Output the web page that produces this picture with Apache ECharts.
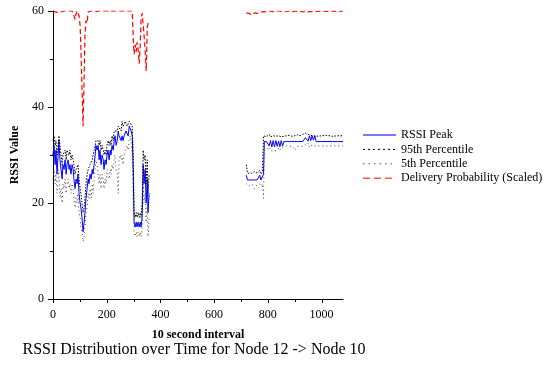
<!DOCTYPE html>
<html>
<head>
<meta charset="utf-8">
<script src="https://cdn.jsdelivr.net/npm/echarts@6/dist/echarts.min.js"></script>
<style>html,body{margin:0;padding:0;background:#fff}#c{width:543px;height:367px}</style>
</head>
<body>
<div id="c"></div>
<script>
// ---- Data ----
const xTicks = [0, 200, 400, 600, 800, 1000];
const xMinorTicks = [100, 300, 500, 700, 900];
const yTicks = [0, 20, 40, 60];

// Segment 1 (10 second intervals 0..360)
const t1 = [0,4,8,11,15,19,22,26,30,34,37,41,45,49,52,56,60,63,67,71,75,78,82,86,90,93,97,101,104,108,112,116,119,123,127,131,134,138,142,146,149,153,157,160,164,168,172,175,179,183,187,190,194,198,201,205,209,213,216,220,224,228,231,235,239,243,246,250,254,257,261,265,269,272,276,280,284,287,291,295,299,302,306,310,313,317,321,325,328,332,336,339,343,347,351,354,358];
const peak1 = [30,32,28,31,26,30,33,29,27,25,28,27,29,26,28,29,27,28,26,28,27,25,23,25,24,26,22,20,19,17,14,16,18,21,23,25,24,26,25,27,26,28,30,32,31,32,29,31,28,30,29,27,29,28,30,31,29,31,30,32,31,33,34,32,33,35,34,34,33,34,33,34,34,35,35,34,36,36,35,34,26,16,15,16,15,16,15,16,15,17,28,24,27,20,25,18,22];
const p95_1 = [33,34,32,33,30,32,34,32,30,28,30,30,31,29,31,31,30,31,29,30,29,28,26,27,27,28,25,23,22,20,18,19,21,24,26,27,27,28,28,29,29,31,32,33,33,33,32,33,31,32,31,30,31,30,32,33,32,33,32,34,33,35,35,35,35,36,36,36,35,37,36,36,37,37,36,36,37,37,37,36,30,18,17,18,17,18,17,18,17,20,31,29,30,24,29,22,26];
const p5_1 = [25,27,24,26,22,25,27,21,23,20,24,23,25,22,24,25,23,24,22,24,23,21,19,21,20,22,18,17,15,14,12,13,15,18,19,22,21,23,21,24,22,25,27,29,28,28,24,26,23,26,25,23,25,24,27,27,25,27,26,28,27,29,30,27,26,22,29,30,29,30,28,30,31,31,32,31,33,34,33,30,20,14,13,14,13,14,13,14,13,15,24,20,22,16,20,13,17];
const deliv1 = [60,60,59.8,60,60,59.7,60,60,59.8,60,60,60,59.7,60,60,60,60,59.8,60,60,59.5,59,58.2,59.5,60,59.8,59,57,52,44,36,46,55,58,57.5,59.8,60,
  60,60,59.8,60,60,60,60,59.9,60,60,60,60,60,59.8,60,60,60,60,60,60,59.9,60,60,60,60,60,60,59.8,60,60,60,60,60,60,60,60,59.9,60,60,60,60,60,60,
  54,51,53,51.5,53.5,52,49,53,58.5,59.5,57,55,52,47.5,56.5,57.5];

// Segment 2 (10 second intervals 720..1080)
const t2 = [720,724,730,740,750,760,770,774,780,784,787,795,800,805,810,815,820,825,830,835,840,845,850,855,860,870,880,890,900,910,920,930,940,945,950,955,960,965,970,975,980,1000,1020,1040,1060,1080];
const peak2 = [25.8,24.8,24.8,24.8,24.8,24.8,25.8,24.8,24.8,26,32.8,32.8,32.8,31.9,33.0,31.7,33.0,31.7,33.0,31.8,32.9,31.7,33.0,31.9,32.8,32.8,32.8,32.8,32.8,32.8,32.8,32.8,33.6,34.0,32.9,34.0,33.0,34.0,33.1,34.0,32.8,32.8,32.8,32.8,32.8,32.8];
const p95_2 = [28,26.2,26,26.2,26.5,26.3,26.8,26,26.5,34,34.0,33.8,34.0,34.3,33.8,34.2,34.0,34.4,33.9,34.2,34.0,34.3,33.8,34.0,33.9,34.0,34.1,33.9,34.0,34.2,34.0,34.3,34.5,34.8,34.3,34.6,34.1,34.5,34.0,34.3,33.9,34.0,34.1,33.9,34.0,34.0];
const p5_2 = [24,24,23.5,24,23,23.8,24,23.5,24,21,31.8,31.5,31.7,31.0,31.5,30.8,31.2,30.9,31.3,30.9,31.5,31.0,31.6,31.3,31.7,31.9,31.8,31.9,31.0,31.8,31.9,31.8,32.2,31.9,32.5,31.7,32.3,31.8,32.0,31.9,32.0,31.9,31.9,31.9,31.9,31.9];
const deliv2 = [59.6,59.3,59.5,59.2,59.6,59.5,59.7,59.6,59.8,59.7,59.8,59.9,59.8,60,59.8,59.9,60,59.8,59.9,60,59.8,60,59.9,59.8,60,59.9,60,59.8,60,59.9,60,59.8,60,59.9,59.8,60,59.9,60,59.8,60,59.9,60,59.9,60,59.9,60];

const names = ['RSSI Peak', '95th Percentile', '5th Percentile', 'Delivery Probability (Scaled)'];

function pairs(xs, ys) { return xs.map((x, i) => [x, ys[i]]); }

const styles = [
  { color: '#0000ff', width: 1, type: 'solid' },
  { color: '#000000', width: 1, type: [1.5, 1.5] },
  { color: '#444444', width: 1, type: [1, 3] },
  { color: '#ff0000', width: 1.2, type: [5, 3] }
];
const legendLine = [
  { color: '#7777ff', width: 2, type: 'solid' },
  { color: '#000000', width: 1, type: [2, 3] },
  { color: '#555555', width: 1, type: [1.5, 4] },
  { color: '#ff0000', width: 1, type: [7, 4] }
];
const seg1 = [peak1, p95_1, p5_1, deliv1];
const seg2 = [peak2, p95_2, p5_2, deliv2];

const series = [];
names.forEach((n, k) => {
  [[t1, seg1[k]], [t2, seg2[k]]].forEach(([xs, ys]) => {
    series.push({
      name: n, type: 'line', data: pairs(xs, ys), symbol: 'none',
      lineStyle: { color: styles[k].color, width: styles[k].width, type: styles[k].type },
      itemStyle: { color: styles[k].color },
      animation: false, silent: true, z: 2 + k
    });
  });
});

const font = 'Liberation Serif';
const chart = echarts.init(document.getElementById('c'), null, { renderer: 'canvas' });
chart.setOption({
  backgroundColor: '#fff',
  animation: false,
  title: {
    text: 'RSSI Distribution over Time for Node 12 -> Node 10',
    left: 189, top: 337, textAlign: 'center',
    textStyle: { fontFamily: font, fontSize: 16, fontWeight: 'normal', color: '#000' }
  },
  legend: {
    data: names.map((n, k) => ({ name: n, itemStyle: { opacity: 0 }, lineStyle: legendLine[k] })),
    left: 362, top: 129, orient: 'vertical',
    itemWidth: 33, itemHeight: 12, itemGap: 2.4,
    textStyle: { fontFamily: font, fontSize: 12, color: '#000' },
    selectedMode: false, padding: 0
  },
  grid: { left: 53, right: 200, top: 11, bottom: 68, containLabel: false },
  xAxis: {
    type: 'value', min: 0, max: 1080, interval: 200,
    name: '10 second interval', nameLocation: 'middle', nameGap: 22,
    nameTextStyle: { fontFamily: font, fontSize: 12, fontWeight: 'bold', color: '#000', padding: [8, 0, 0, 0] },
    axisLine: { show: true, onZero: false, lineStyle: { color: '#000', width: 1 } },
    axisTick: { show: false },
    minorTick: { show: false },
    axisLabel: { fontFamily: font, fontSize: 12, color: '#000', margin: 3, padding: [7, 0, 0, 0],
      customValues: xTicks, formatter: v => String(v) },
    splitLine: { show: false }
  },
  yAxis: {
    type: 'value', min: 0, max: 60, interval: 20,
    name: 'RSSI Value', nameLocation: 'middle', nameGap: 31,
    nameTextStyle: { fontFamily: font, fontSize: 12, fontWeight: 'bold', color: '#000' },
    axisLine: { show: true, lineStyle: { color: '#000', width: 1 } },
    axisTick: { show: true, inside: false, length: 5, lineStyle: { color: '#000' } },
    minorTick: { show: true, splitNumber: 2, length: 3, lineStyle: { color: '#000' } },
    axisLabel: { fontFamily: font, fontSize: 12, color: '#000', margin: 9 },
    splitLine: { show: false }
  },
  series: series
});

// x-axis tick marks, positioned through the chart's own x scale
const yBase = chart.convertToPixel({ yAxisIndex: 0 }, 0);
function tickMark(v, len) {
  const px = Math.round(chart.convertToPixel({ xAxisIndex: 0 }, v)) + 0.5;
  return {
    type: 'line', silent: true, z: 10,
    shape: { x1: px, y1: yBase, x2: px, y2: yBase + len },
    style: { stroke: '#000', lineWidth: 1 }
  };
}
chart.setOption({
  graphic: xTicks.map(v => tickMark(v, 4)).concat(xMinorTicks.map(v => tickMark(v, 3)))
});
</script>
</body>
</html>
